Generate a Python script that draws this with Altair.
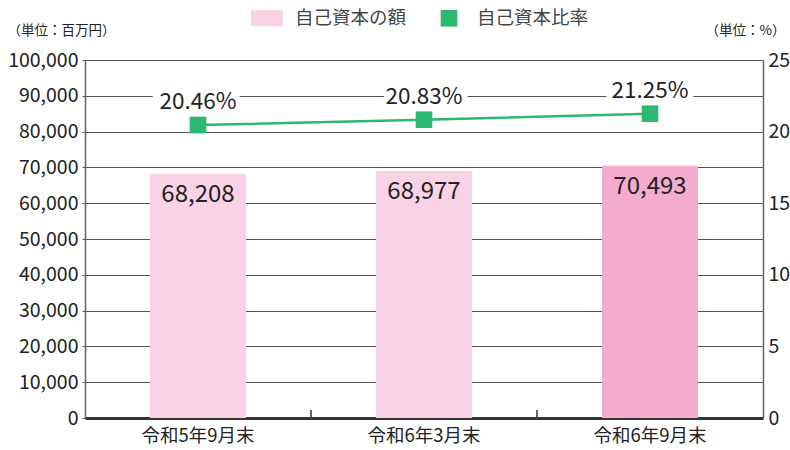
import altair as alt
import pandas as pd

categories = ["令和5年9月末", "令和6年3月末", "令和6年9月末"]
capital = [68208, 68977, 70493]
ratio = [20.46, 20.83, 21.25]
series_names = ["自己資本の額", "自己資本比率"]
left_ticks = [0, 10000, 20000, 30000, 40000, 50000, 60000, 70000, 80000, 90000, 100000]
right_ticks = [0, 5, 10, 15, 20, 25]

df = pd.DataFrame({"cat": categories, "capital": capital, "ratio": ratio,
                   "series": [series_names[1]] * 3})

FONT = "Noto Sans CJK JP"
LIGHT = "#F9D3E5"
DARK = "#F3ABCE"
GREEN = "#2DB86F"
TXT = "#222222"
GRID = "#555555"

base = alt.Chart(df)
x_scale = alt.Scale(paddingInner=0, paddingOuter=0)
x_axis = alt.Axis(title=None, ticks=False, domainColor="#333333", domainWidth=3,
                  labelFont=FONT, labelFontSize=18.5, labelColor=TXT,
                  labelPadding=8, labelAngle=0)
x_enc = alt.X("cat:N", sort=categories, scale=x_scale, axis=x_axis)

yl_scale = alt.Scale(domain=[0, 100000])
yl_axis = alt.Axis(title="（単位：百万円）", titleAngle=0, titleX=-78, titleY=-30,
                   titleAlign="left", titleBaseline="middle", titleFont=FONT,
                   titleFontSize=13.5, titleFontWeight="normal", titleColor=TXT,
                   values=left_ticks, format=",.0f", labelFont=FONT, labelFontSize=19.5,
                   labelColor=TXT, labelPadding=4, tickSize=3, tickColor=GRID,
                   labelOverlap=False,
                   domainColor="#666666", domainWidth=1.5,
                   grid=True, gridColor=GRID, gridWidth=1, gridOpacity=1)
yl_enc = alt.Y("capital:Q", scale=yl_scale, axis=yl_axis)

bars = base.mark_bar(width=96).encode(
    x=x_enc,
    y=yl_enc,
    color=alt.condition(alt.datum.cat == categories[2], alt.value(DARK), alt.value(LIGHT)),
)
bar_labels = base.mark_text(baseline="top", dy=9, font=FONT, fontSize=24, color=TXT).encode(
    x=x_enc,
    y=yl_enc,
    text=alt.Text("capital:Q", format=","),
)
ticks = base.transform_filter(alt.datum.cat != categories[0]).mark_rule(
    color="#333333", strokeWidth=1.5).encode(
    x=alt.X("cat:N", sort=categories, bandPosition=0, scale=x_scale, axis=x_axis),
    y=alt.value(350), y2=alt.value(358),
)
left = alt.layer(bars, bar_labels, ticks)

yr_scale = alt.Scale(domain=[0, 25])
yr_axis = alt.Axis(title="（単位：%）", titleAngle=0, titleX=-58, titleY=-30,
                   titleAlign="left", titleBaseline="middle", titleFont=FONT,
                   titleFontSize=13.5, titleFontWeight="normal", titleColor=TXT,
                   values=right_ticks, format="d", labelFont=FONT, labelFontSize=19.5,
                   labelColor=TXT, labelPadding=5, ticks=False,
                   labelOverlap=False,
                   domainColor="#666666", domainWidth=1.5, grid=False,
                   orient="right")
yr_enc = alt.Y("ratio:Q", scale=yr_scale, axis=yr_axis)

line = base.mark_line(color=GREEN, strokeWidth=2.5).encode(x=x_enc, y=yr_enc)

rect_path = "M-1,-0.5H1V0.5H-1Z"
sq_path = "M-0.52,-0.52H0.52V0.52H-0.52Z"
legend_props = dict(title=None, orient="none", legendX=166, legendY=-58, direction="horizontal",
                    labelFont=FONT, labelFontSize=18.5, labelColor="#444444", labelOffset=12,
                    columnPadding=26, symbolSize=1024, symbolOpacity=1, symbolStrokeWidth=0,
                    padding=0)
points = base.mark_point(filled=True, size=1024, opacity=1).encode(
    x=x_enc,
    y=yr_enc,
    color=alt.Color("series:N", scale=alt.Scale(domain=series_names, range=[LIGHT, GREEN]),
                    legend=alt.Legend(**legend_props)),
    shape=alt.Shape("series:N", scale=alt.Scale(domain=series_names, range=[rect_path, sq_path]),
                    legend=alt.Legend(**legend_props)),
)
ratio_text = alt.Text("label:N")
lab_bg = base.transform_calculate(label="format(datum.ratio, '.2f') + '%'").mark_text(
    baseline="bottom", dy=-11, font=FONT, fontSize=22.5, color="white", stroke="white",
    strokeWidth=12).encode(x=x_enc, y=yr_enc, text=ratio_text)
lab = base.transform_calculate(label="format(datum.ratio, '.2f') + '%'").mark_text(
    baseline="bottom", dy=-11, font=FONT, fontSize=22.5, color=TXT).encode(
    x=x_enc, y=yr_enc, text=ratio_text)
right = alt.layer(line, lab_bg, points, lab)

chart = alt.layer(left, right).resolve_scale(y="independent").properties(
    width=678, height=358,
    autosize=alt.AutoSizeParams(type="none"),
    padding={"left": 85, "top": 60, "right": 27, "bottom": 32},
).configure_view(strokeOpacity=0).configure(background="white")

chart.save("out.html", embed_options={"renderer": "svg", "actions": False})
